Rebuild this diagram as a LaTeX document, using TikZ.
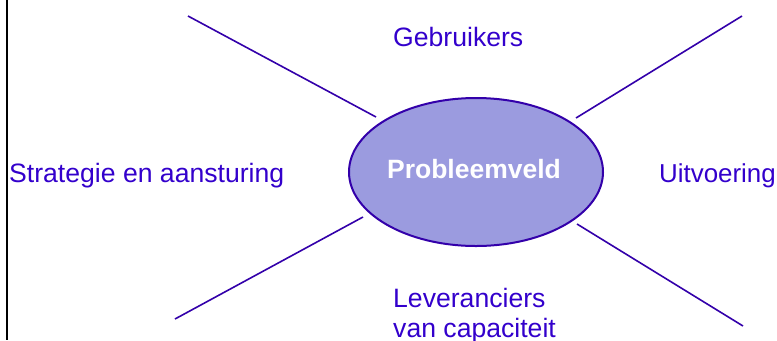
\documentclass[tikz,border=0pt]{standalone}
\usepackage{fontspec}
\setmainfont{Liberation Sans}
\usetikzlibrary{shapes.geometric}
\definecolor{txtblue}{RGB}{51,0,204}
\definecolor{lineblue}{RGB}{51,0,170}
\definecolor{ellfill}{RGB}{155,155,223}
\begin{document}
\begin{tikzpicture}[x=1bp,y=-1bp,
  lbl/.style={text=txtblue,font=\fontsize{26.7}{30}\selectfont,inner sep=0pt},
  spoke/.style={draw=lineblue,line width=1.6bp},
  core/.style={ellipse,draw=lineblue,fill=ellfill,line width=2bp,minimum width=254bp,minimum height=148bp,inner sep=0pt}]
\useasboundingbox (0,0) rectangle (777,340);
\draw[black,line width=2bp] (6.5,0) -- (6.5,340);
\node[core] (pv) at (476,172) {};
\node[text=white,font=\fontsize{26.6}{30}\selectfont\bfseries,inner sep=0pt,anchor=base] (pvt) at (474,178) {Probleemveld};
\coordinate (a1) at (188,16);  \coordinate (a2) at (376,117);
\coordinate (b1) at (742,16);  \coordinate (b2) at (576,118);
\coordinate (c1) at (743,326); \coordinate (c2) at (577,224);
\coordinate (d1) at (175,319); \coordinate (d2) at (363,217);
\draw[spoke] (a1) -- (a2);
\draw[spoke] (b1) -- (b2);
\draw[spoke] (c1) -- (c2);
\draw[spoke] (d1) -- (d2);
\node[lbl,anchor=base west] (geb) at (393,46) {Gebruikers};
\node[lbl,anchor=base west] (str) at (9,182) {Strategie en aansturing};
\node[lbl,anchor=base east,font=\fontsize{26}{30}\selectfont] (uit) at (776,182) {Uitvoering};
\node[lbl,anchor=base west] (lev) at (393,307) {Leveranciers};
\node[lbl,anchor=base west] (cap) at (393,337) {van capaciteit};
\end{tikzpicture}
\end{document}
